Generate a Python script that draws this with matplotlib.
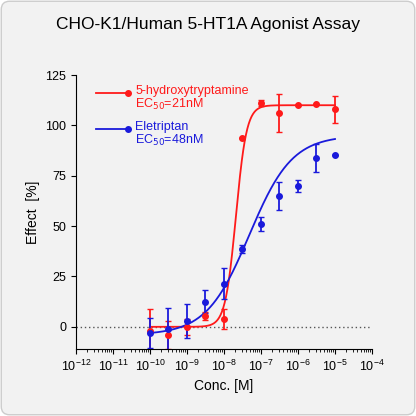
import numpy as np
import matplotlib
matplotlib.use("Agg")
import matplotlib.pyplot as plt
from matplotlib.patches import FancyBboxPatch

plt.rcParams['font.family'] = ['Liberation Sans', 'DejaVu Sans']

conc = [1e-10, 3e-10, 1e-9, 3e-9, 1e-8, 3e-8, 1e-7, 3e-7, 1e-6, 3e-6, 1e-5]
ht_y = [-2, -4, 0, 5.5, 4, 93.5, 111, 106, 110, 110.5, 108]
ht_err = [11, 7, 4, 2, 5, 0, 1.5, 9.4, 0, 0, 6.8]
el_y = [-3, -1, 3, 12.5, 21.5, 38.7, 51, 65, 70, 84, 85.5]
el_err = [7.5, 10.5, 8.5, 5.6, 7.8, 2, 3.5, 6.8, 3, 7, 0]
ht_fit = dict(bottom=0, top=110, ec50=21e-9, hill=3.0)
el_fit = dict(bottom=-4, top=95, ec50=48e-9, hill=0.75)

def logistic(x, bottom, top, ec50, hill):
    return bottom + (top - bottom) / (1 + (ec50 / x) ** hill)

fig = plt.figure(figsize=(4.16, 4.16), dpi=100)
fig.patch.set_facecolor("white")
bg = FancyBboxPatch((0.003, 0.003), 0.994, 0.994, boxstyle="round,pad=0,rounding_size=0.02",
                    transform=fig.transFigure, facecolor="#f2f2f2", edgecolor="#cccccc", lw=1, zorder=-10)
fig.patches.append(bg)
ax = fig.add_axes([76/416, 1-349/416, 296/416, 274/416])
ax.set_facecolor("none")
ax.set_xscale("log")
ax.set_xlim(1e-12, 1e-4)
ax.set_ylim(-11, 125)
xs = np.logspace(-10, -5, 400)
ax.axhline(0, color="#555555", ls=(0, (1, 2)), lw=1)
ax.plot(xs, logistic(xs, **ht_fit), color="#ff1a1a", lw=1.3)
ax.plot(xs, logistic(xs, **el_fit), color="#1a1adb", lw=1.3)
ax.errorbar(conc, ht_y, yerr=ht_err, fmt="o", color="#ff1a1a", ms=4, capsize=2.5, lw=1.3)
ax.errorbar(conc, el_y, yerr=el_err, fmt="o", color="#1a1adb", ms=4, capsize=2.5, lw=1.3)
ax.set_yticks([0, 25, 50, 75, 100, 125])
ax.set_xticks([10.0**k for k in range(-12, -3)])
ax.xaxis.set_minor_locator(matplotlib.ticker.LogLocator(subs=np.arange(2, 10), numticks=20))
ax.xaxis.set_minor_formatter(matplotlib.ticker.NullFormatter())
for s in ["top", "right"]:
    ax.spines[s].set_visible(False)
ax.tick_params(labelsize=9)
ax.set_xlabel("Conc. [M]", fontsize=10)
ax.set_ylabel("Effect  [%]", fontsize=10)
fig.text(0.5, 0.93, "CHO-K1/Human 5-HT1A Agonist Assay", ha="center", fontsize=12.5)
ax.plot([1e-12*10**0.55, 1e-12*10**1.4], [116, 116], color="#ff1a1a", lw=1.3, marker="o", markevery=[1], ms=4)
ax.plot([1e-12*10**0.55, 1e-12*10**1.4], [98, 98], color="#1a1adb", lw=1.3, marker="o", ms=4, markevery=[1])
ax.text(1e-12*10**1.6, 120, "5-hydroxytryptamine\nEC$_{50}$=21nM", color="#ff1a1a", fontsize=9, va="top", linespacing=1.0)
ax.text(1e-12*10**1.6, 102, "Eletriptan\nEC$_{50}$=48nM", color="#1a1adb", fontsize=9, va="top", linespacing=1.0)
fig.savefig("out.png", dpi=100, facecolor=fig.get_facecolor())
